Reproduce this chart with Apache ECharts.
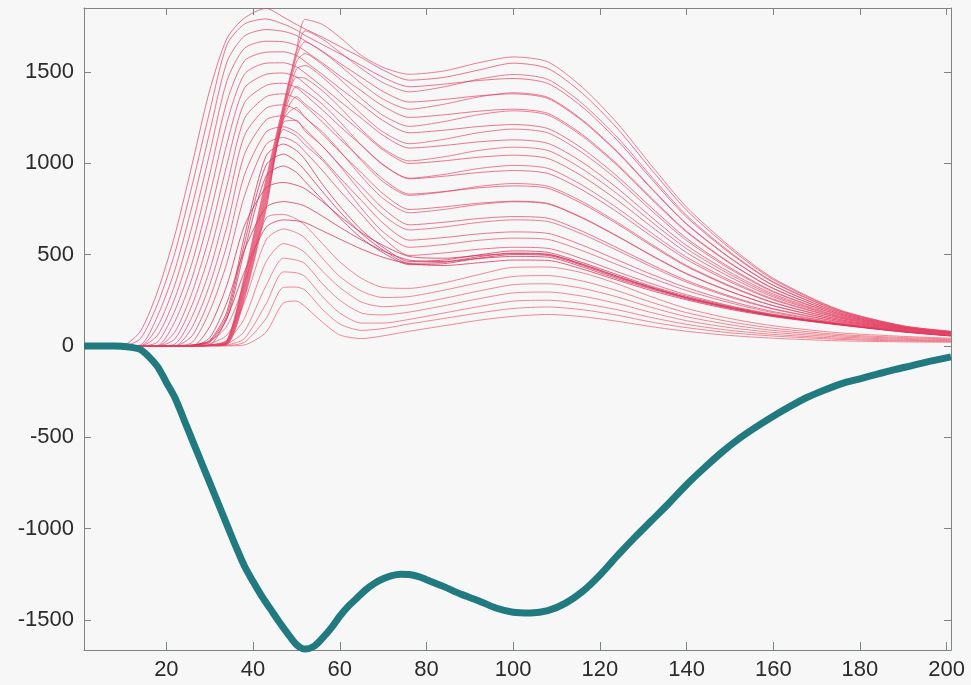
<!DOCTYPE html>
<html><head><meta charset="utf-8">
<script src="https://cdn.jsdelivr.net/npm/echarts@6/dist/echarts.min.js"></script>
<style>html,body{margin:0;padding:0;background:#f7f7f7;} #c{width:971px;height:685px;}</style>
</head><body><div id="c"></div>
<script>
// shared x positions of the red curves
const xs = [1,10,14,18,22,26,30,34,38,43,47,50,52,56,60,65,70,76,84,92,100,108,116,124,132,140,150,160,175,190,201];

// lowest curves (small bump near 48, broad hump near 100)
const lowCurves = [
 [0,0,0,0,0,0,0,0,5,75,235,245,215,130,60,40,55,80,110,140,162,172,160,135,105,80,57,42,28,22,20],
 [0,0,0,0,0,0,0,2,20,150,320,322,305,200,120,85,95,120,150,180,205,213,198,168,130,100,72,54,36,27,24],
 [0,0,0,0,0,0,0,5,40,230,405,400,380,270,180,125,125,145,180,215,245,250,232,198,155,118,85,63,42,31,27],
 [0,0,0,0,0,0,2,12,80,330,480,470,450,340,250,180,170,185,220,258,290,295,272,232,182,138,100,74,49,36,30],
 [0,0,0,0,0,0,5,30,150,460,560,540,510,410,320,240,215,225,260,300,335,340,315,268,210,160,116,85,56,41,34],
 [0,0,0,0,0,2,12,60,240,580,640,620,590,480,380,300,265,270,305,345,380,385,355,302,238,182,132,97,63,46,38],
 [0,0,0,0,0,5,25,110,340,700,720,695,660,560,460,370,320,315,345,390,430,432,400,340,268,205,150,110,72,52,42]
];
// the dense ridge (~500 plateau)
const ridgeCurves = [
 [0,0,0,0,0,0,5,155,405,650,690,685,675,630,585,530,485,450,440,455,470,468,420,360,302,252,200,160,115,76,54],
 [0,0,0,0,0,0,45,240,525,759,790,780,765,710,650,580,520,470,462,478,490,486,432,368,310,258,205,163,117,77,55],
 [0,0,0,0,0,0,105,335,657,866,895,880,860,790,710,620,550,490,480,495,505,500,445,380,318,264,210,166,119,79,56],
 [0,0,0,0,0,3,20,150,520,930,985,950,900,800,700,590,510,445,450,480,500,495,440,375,315,262,208,165,118,78,56],
 [0,0,0,0,0,4,25,170,560,990,1050,1010,960,845,735,615,525,452,458,488,508,502,448,382,320,266,212,168,120,80,57],
 [0,0,0,0,0,5,30,190,600,1040,1105,1070,1020,885,765,635,540,462,470,498,520,512,456,390,326,272,216,171,122,81,58]
];
// early-rising curves (peak near 43)
const earlyCurves = [
 [0,0,0,0,0,20,190,457,820,1103,1141,1110,1063,960,850,721,592,495,509,529,540,534,476,406,340,280,220,173,121,79,57],
 [0,0,0,0,0,57,260,555,935,1171,1200,1170,1125,1026,921,796,672,579,593,613,624,616,551,471,391,319,246,188,127,82,59],
 [0,0,0,0,0,105,335,657,1048,1237,1260,1232,1188,1093,991,872,753,663,677,697,708,699,627,537,444,358,273,204,134,84,61],
 [0,0,0,0,10,163,415,767,1151,1301,1320,1292,1251,1160,1062,948,833,747,761,781,792,780,702,602,495,396,299,220,140,87,62],
 [0,0,0,0,39,228,508,880,1244,1364,1380,1355,1314,1226,1133,1023,913,831,845,865,876,863,778,668,547,435,325,236,146,89,64],
 [0,0,0,0,78,297,606,995,1331,1426,1438,1414,1375,1292,1203,1098,993,915,929,949,960,944,853,733,599,473,351,252,153,92,66],
 [0,0,0,2,135,377,715,1110,1411,1487,1494,1472,1435,1355,1271,1172,1073,999,1013,1033,1044,1026,928,798,651,511,377,268,159,94,68],
 [0,0,0,22,195,461,825,1225,1487,1548,1550,1528,1494,1419,1340,1246,1153,1083,1097,1117,1128,1109,1005,864,703,550,403,284,165,97,70],
 [0,0,0,59,264,559,940,1340,1560,1608,1610,1590,1557,1486,1411,1322,1233,1167,1181,1201,1212,1190,1080,929,755,589,429,299,172,99,72],
 [0,0,0,107,338,662,1055,1453,1629,1668,1665,1646,1615,1549,1479,1396,1313,1251,1265,1285,1296,1273,1156,995,807,628,455,315,178,101,74],
 [0,0,5,165,419,772,1170,1556,1696,1732,1722,1700,1670,1614,1548,1470,1393,1335,1349,1369,1380,1355,1231,1060,858,666,481,331,184,104,75],
 [0,0,40,231,512,885,1285,1650,1762,1790,1762,1730,1700,1650,1600,1535,1470,1419,1433,1453,1464,1437,1307,1126,911,705,508,347,191,106,77],
 [0,5,80,300,610,1000,1400,1685,1795,1848,1800,1760,1735,1690,1640,1578,1510,1455,1470,1510,1548,1519,1382,1191,962,743,534,363,197,109,79]
];
// late-rising curves along the steep band (peak near 47-52)
const bandCurves = [
 [0,0,0,0,0,0,2,8,255,745,1185,1150,1100,1016,904,753,624,540,555,578,590,583,521,445,371,303,236,182,125,81,58],
 [0,0,0,0,0,0,2,10,268,762,1225,1235,1175,1094,986,840,716,635,651,676,690,681,611,523,432,349,267,201,132,84,60],
 [0,0,0,0,0,0,2,12,281,779,1240,1305,1250,1172,1068,927,807,729,747,774,789,777,699,600,493,394,298,220,140,87,62],
 [0,0,0,0,0,0,2,14,294,796,1244,1365,1325,1250,1150,1014,899,824,843,873,889,874,789,677,555,440,329,238,147,89,65],
 [0,0,0,0,0,0,3,16,307,813,1255,1420,1395,1323,1228,1099,990,918,939,971,988,972,879,755,617,486,360,257,155,92,67],
 [0,0,0,0,0,0,3,18,320,830,1266,1470,1465,1397,1307,1185,1081,1013,1035,1070,1088,1070,968,833,678,532,391,276,162,95,69],
 [0,0,0,0,0,0,3,20,333,847,1277,1515,1535,1471,1385,1270,1171,1107,1131,1167,1187,1166,1057,910,739,577,421,295,170,98,71],
 [0,0,0,0,0,0,4,22,346,864,1288,1555,1600,1540,1461,1353,1262,1202,1228,1266,1287,1264,1147,988,801,623,452,314,177,101,73],
 [0,0,0,0,0,0,4,25,359,881,1299,1585,1665,1610,1536,1436,1351,1296,1323,1363,1386,1361,1237,1065,862,669,483,332,185,104,76],
 [0,0,0,0,0,0,5,28,372,898,1310,1605,1725,1680,1608,1518,1441,1391,1418,1460,1486,1459,1326,1143,924,715,514,351,193,107,78],
 [0,0,0,0,0,0,5,31,385,915,1321,1620,1787,1760,1690,1590,1525,1487,1505,1550,1582,1555,1415,1220,985,760,545,370,200,110,80]
];

// thick teal (negative) curve
const tealX = [1,8,10,12,14,16,18,20,22,24,26,28,30,32,34,36,38,40,42,44,46,48,50,52,54,56,58,60,62,64,66,68,70,72,74,76,78,80,84,88,92,96,100,104,108,112,116,120,124,128,132,136,140,144,148,152,156,160,164,168,172,176,180,184,188,192,196,201];
const tealY = [0,0,-3,-8,-20,-60,-115,-200,-285,-400,-517,-633,-749,-865,-981,-1097,-1205,-1290,-1370,-1440,-1510,-1575,-1635,-1660,-1645,-1600,-1545,-1480,-1425,-1380,-1335,-1300,-1275,-1258,-1250,-1252,-1262,-1280,-1318,-1360,-1395,-1435,-1458,-1462,-1450,-1410,-1345,-1255,-1150,-1050,-955,-860,-760,-670,-585,-510,-445,-385,-330,-280,-240,-205,-180,-155,-130,-108,-85,-60];

const xTicks = [20,40,60,80,100,120,140,160,180,200];
const yTicks = [-1500,-1000,-500,0,500,1000,1500];

const chart = echarts.init(document.getElementById('c'));
const series = [];
function addGroup(curves, color, w) {
  curves.forEach(function (ys) {
    series.push({
      type: 'line', xAxisIndex: 0, yAxisIndex: 0, symbol: 'none', silent: true,
      smooth: 0.25,
      lineStyle: { color: color, width: w },
      data: xs.map(function (x, i) { return [x, ys[i]]; })
    });
  });
}
addGroup(lowCurves, 'rgba(236,100,116,0.85)', 0.9);
addGroup(ridgeCurves, 'rgba(214,48,88,0.85)', 0.9);
addGroup(earlyCurves, 'rgba(228,66,100,0.8)', 0.9);
addGroup(bandCurves, 'rgba(228,66,100,0.75)', 0.9);
series.push({
  type: 'line', xAxisIndex: 0, yAxisIndex: 0, symbol: 'none', silent: true, z: 5,
  smooth: 0.3,
  lineStyle: { color: '#217a80', width: 7 },
  data: tealX.map(function (x, i) { return [x, tealY[i]]; })
});

const axisColor = '#7d8486';
const labelStyle = { fontFamily: 'Liberation Sans, Arial, sans-serif', fontSize: 22, color: '#2b2b2b' };
const plain = function (v) { return String(v); };
chart.setOption({
  backgroundColor: '#f7f7f7',
  animation: false,
  grid: { left: 84, right: 20, top: 8, bottom: 35, containLabel: false },
  xAxis: [
    { type: 'value', min: 1, max: 201, position: 'bottom',
      axisLine: { show: true, onZero: false, lineStyle: { color: axisColor, width: 1 } },
      axisTick: { show: true, inside: true, length: 8, customValues: xTicks, lineStyle: { color: axisColor } },
      axisLabel: Object.assign({ show: true, margin: 9, customValues: xTicks, formatter: plain }, labelStyle),
      splitLine: { show: false } },
    { type: 'value', min: 1, max: 201, position: 'top',
      axisLine: { show: true, onZero: false, lineStyle: { color: axisColor, width: 1 } },
      axisTick: { show: true, inside: true, length: 7, customValues: xTicks, lineStyle: { color: axisColor } },
      axisLabel: { show: false }, splitLine: { show: false } }
  ],
  yAxis: [
    { type: 'value', min: -1665, max: 1850, position: 'left',
      axisLine: { show: true, onZero: false, lineStyle: { color: axisColor, width: 1 } },
      axisTick: { show: true, inside: true, length: 7, customValues: yTicks, lineStyle: { color: axisColor } },
      axisLabel: Object.assign({ show: true, margin: 10, customValues: yTicks, formatter: plain }, labelStyle),
      splitLine: { show: false } },
    { type: 'value', min: -1665, max: 1850, position: 'right',
      axisLine: { show: true, onZero: false, lineStyle: { color: axisColor, width: 1 } },
      axisTick: { show: true, inside: true, length: 7, customValues: yTicks, lineStyle: { color: axisColor } },
      axisLabel: { show: false }, splitLine: { show: false } }
  ],
  series: series
});
</script></body></html>
